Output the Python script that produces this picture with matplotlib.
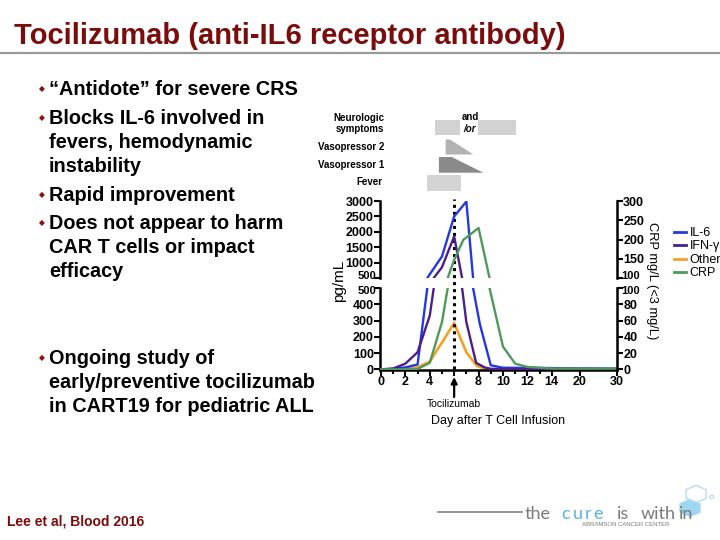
import numpy as np
import matplotlib
matplotlib.use('Agg')
import matplotlib.pyplot as plt
from matplotlib.patches import RegularPolygon, Circle
from matplotlib.lines import Line2D

plt.rcParams['font.family'] = ['Liberation Sans', 'DejaVu Sans']

# ---------------- data ----------------
il6_days = [0, 1, 2, 3, 4, 5, 6, 7, 7.55, 8.1, 9, 10, 14, 20, 30]
il6_vals = [0, 3, 12, 30, 620, 1200, 2500, 2980, 500, 280, 25, 10, 8, 6, 5]
ifn_days = [0, 1, 2, 3, 4, 5, 6, 6.65, 7, 7.8, 8.5, 9, 10, 14, 20, 30]
ifn_vals = [0, 5, 35, 105, 330, 850, 1850, 500, 290, 40, 12, 3, 1, 0, 0, 0]
oth_days = [0, 1, 2, 3, 4, 5, 6, 7, 7.85, 8.5, 9, 10, 14, 20, 30]
oth_vals = [0, 0, 3, 12, 48, 165, 285, 105, 22, 5, 1, 0, 0, 0, 0]
crp_days = [0, 1, 2, 3, 4, 5, 6, 6.75, 8, 8.9, 10, 11, 12, 13, 14, 20, 30]
crp_vals = [0, 0, 0, 0.5, 8, 58, 147, 199, 230, 100, 28, 7, 3, 2, 1, 1, 1]

series_names = ['IL-6', 'IFN-γ', 'Other', 'CRP']

tocilizumab_day = 6

x_major = [0, 2, 4, 6, 8, 10, 12, 14, 20, 30]
x_labels = ['0', '2', '4', '', '8', '10', '12', '14', '20', '30']
x_minor = [1, 3, 5, 7, 9, 11, 13]
left_bottom_ticks = [0, 100, 200, 300, 400, 500]
left_top_ticks = [500, 1000, 1500, 2000, 2500, 3000]
right_bottom_ticks = [0, 20, 40, 60, 80, 100]
right_top_ticks = [100, 150, 200, 250, 300]

# symptoms (days)
fever_span = (3.75, 6.53)
neuro_spans = [(4.43, 6.48), (7.98, 11.07)]
vaso1 = (4.75, 5.8, 8.39)   # start, plateau end, end
vaso2 = (5.3, 5.66, 7.57)

title = 'Tocilizumab (anti-IL6 receptor antibody)'
bullet_lines = [
    ('“Antidote” for severe CRS', True),
    ('Blocks IL-6 involved in', True),
    ('fevers, hemodynamic', False),
    ('instability', False),
    ('Rapid improvement', True),
    ('Does not appear to harm', True),
    ('CAR T cells or impact', False),
    ('efficacy', False),
    ('Ongoing study of', True),
    ('early/preventive tocilizumab', False),
    ('in CART19 for pediatric ALL', False),
]
bullet_y = [88, 117, 141, 165, 194, 222, 246, 270, 357, 381, 405]
footer = 'Lee et al, Blood 2016'

# ---------------- styling ----------------
W, H = 720, 540
c_blue = '#2438e0'
c_purple = '#4a1f8c'
c_orange = '#f2a12a'
c_green = '#4f9a58'
dark_red = '#7a0c0c'


def rect(x0, y0, x1, y1):
    return [x0 / W, 1 - y1 / H, (x1 - x0) / W, (y1 - y0) / H]


def fx(px):
    return px / W


def fy(py):
    return 1 - py / H


bp_in = [-10, 0, 14, 20, 30, 40]
bp_out = [-10, 0, 14, 16.3, 19.35, 22.4]


def fwd(x):
    return np.interp(x, bp_in, bp_out)


def inv(x):
    return np.interp(x, bp_out, bp_in)


fig = plt.figure(figsize=(7.2, 5.4), dpi=100)

# ----- chart axes -----
ax_b = fig.add_axes(rect(380, 288, 617, 370))
ax_b.set_xscale('function', functions=(fwd, inv))
ax_t = fig.add_axes(rect(380, 201, 617, 278), sharex=ax_b)
ax_br = ax_b.twinx()
ax_tr = ax_t.twinx()

for ax in (ax_b, ax_t):
    ax.plot(il6_days, il6_vals, color=c_blue, lw=1.7, zorder=3)
    ax.plot(ifn_days, ifn_vals, color=c_purple, lw=1.7, zorder=3)
    ax.plot(oth_days, oth_vals, color=c_orange, lw=1.9, zorder=2)
for ax in (ax_br, ax_tr):
    ax.plot(crp_days, crp_vals, color=c_green, lw=1.7)

ax_b.set_xlim(-0.08, 30)
ax_b.set_ylim(-4, 500)
ax_br.set_ylim(-0.8, 100)
ax_t.set_ylim(500, 3000)
ax_tr.set_ylim(100, 300)

tick_kw = dict(direction='out', length=4, width=1.5, pad=0.5, labelsize=9)


def lab(ticks, skip=None):
    return ['' if v == skip else str(v) for v in ticks]


ax_b.set_xticks(x_major, x_labels, fontweight='bold')
ax_b.set_xticks(x_minor, minor=True)
ax_b.tick_params(axis='x', which='major', **tick_kw)
ax_b.tick_params(axis='x', which='minor', direction='out', length=3, width=1.5)
ax_b.set_yticks(left_bottom_ticks, lab(left_bottom_ticks, 500), fontweight='bold')
ax_b.tick_params(axis='y', **tick_kw)
ax_br.set_yticks(right_bottom_ticks, lab(right_bottom_ticks, 100), fontweight='bold')
ax_br.tick_params(axis='y', **tick_kw)
ax_t.set_yticks(left_top_ticks, lab(left_top_ticks, 500), fontweight='bold')
ax_t.tick_params(axis='y', **tick_kw)
ax_t.tick_params(axis='x', which='both', bottom=False, labelbottom=False)
ax_tr.set_yticks(right_top_ticks, lab(right_top_ticks, 100), fontweight='bold')
ax_tr.tick_params(axis='y', **tick_kw)
ax_tr.tick_params(axis='x', which='both', bottom=False, labelbottom=False)

# break-edge labels, squeezed slightly apart as in the reference
brk_kw = dict(va='center', fontsize=8, fontweight='bold')
fig.text(fx(376), fy(276), '500', ha='right', **brk_kw)
fig.text(fx(376), fy(290.5), '500', ha='right', **brk_kw)
fig.text(fx(621.5), fy(276), '100', ha='left', **brk_kw)
fig.text(fx(621.5), fy(290.5), '100', ha='left', **brk_kw)

for ax in (ax_b, ax_t, ax_br, ax_tr):
    for s in ax.spines.values():
        s.set_visible(False)
        s.set_linewidth(1.8)
ax_b.spines['left'].set_visible(True)
ax_b.spines['bottom'].set_visible(True)
ax_br.spines['right'].set_visible(True)
ax_t.spines['left'].set_visible(True)
ax_tr.spines['right'].set_visible(True)
for ax in (ax_b, ax_t):
    ax.patch.set_visible(False)

# dotted tocilizumab line through both panels
ax_b.axvline(tocilizumab_day, ymin=(370 - 369) / 82, ymax=(370 - 199) / 82,
             color='black', ls=(0, (1, 1.3)), lw=2.2, clip_on=False, zorder=5)
xt = ax_b.get_xaxis_transform()
ax_b.annotate('', xy=(tocilizumab_day, (370 - 377) / 82), xytext=(tocilizumab_day, (370 - 397) / 82),
              xycoords=xt, textcoords=xt,
              arrowprops=dict(arrowstyle='-|>', color='black', lw=1.6, mutation_scale=9,
                              shrinkA=0, shrinkB=0))
ax_b.text(tocilizumab_day, (370 - 404) / 82, 'Tocilizumab', transform=xt,
          ha='center', va='center', fontsize=7.5)

fig.text(fx(498), fy(421), 'Day after T Cell Infusion', ha='center', va='center', fontsize=9)
fig.text(fx(339), fy(281), 'pg/mL', rotation=90, ha='center', va='center', fontsize=11)
fig.text(fx(652), fy(281), 'CRP mg/L (<3 mg/L)', rotation=-90, ha='center', va='center',
         fontsize=9.3)

handles = [Line2D([], [], color=c, lw=2) for c in (c_blue, c_purple, c_orange, c_green)]
fig.legend(handles, series_names, loc='upper left', bbox_to_anchor=(fx(674), fy(227)),
           frameon=False, handlelength=0.95, handletextpad=0.3, labelspacing=0.12,
           fontsize=9, borderaxespad=0, borderpad=0)

# ----- symptom bars -----
ax_s = fig.add_axes(rect(380, 110, 617, 195), sharex=ax_b)
ax_s.set_ylim(195, 110)
ax_s.axis('off')
c_neuro, c_v2, c_v1, c_fever = '#d2d2d2', '#b3b3b3', '#8a8a8a', '#d4d4d4'
for s, e in neuro_spans:
    ax_s.fill([s, e, e, s], [120, 120, 135, 135], color=c_neuro, lw=0)
ax_s.fill([vaso2[0], vaso2[1], vaso2[2], vaso2[0]], [139.5, 139.5, 154.5, 154.5], color=c_v2, lw=0)
ax_s.fill([vaso1[0], vaso1[1], vaso1[2], vaso1[0]], [157, 157, 172.7, 172.7], color=c_v1, lw=0)
ax_s.fill([fever_span[0], fever_span[1], fever_span[1], fever_span[0]], [175, 175, 190.7, 190.7],
          color=c_fever, lw=0)

lab_kw = dict(ha='right', va='center', fontsize=7, fontweight='bold')
fig.text(fx(384), fy(118), 'Neurologic', **lab_kw)
fig.text(fx(384), fy(129), 'symptoms', **lab_kw)
fig.text(fx(384), fy(147), 'Vasopressor 2', **lab_kw)
fig.text(fx(384), fy(164.5), 'Vasopressor 1', **lab_kw)
fig.text(fx(382), fy(182), 'Fever', **lab_kw)
fig.text(fx(462), fy(117), 'and', ha='left', va='center', fontsize=7, fontweight='bold')
fig.text(fx(463), fy(128.5), '/or', ha='left', va='center', fontsize=7, fontweight='bold',
         style='italic')

# ----- slide text -----
fig.text(fx(13.5), fy(44), title, ha='left', va='baseline', fontsize=21, fontweight='bold',
         color=dark_red)
fig.add_artist(Line2D([0, 1], [fy(52.5), fy(52.5)], color='#9a9a9a', lw=1.6))

for (txt, has_bullet), yc in zip(bullet_lines, bullet_y):
    fig.text(fx(49), fy(yc + 7), txt, ha='left', va='baseline', fontsize=14.3, fontweight='bold',
             color='black')
    if has_bullet:
        fig.text(fx(41.5), fy(yc + 1), '◆', ha='center', va='center', fontsize=5.5,
                 color='#8a1010', family='DejaVu Sans')

fig.text(fx(7), fy(526), footer, ha='left', va='baseline', fontsize=10, fontweight='bold',
         color=dark_red)

# ----- logo -----
fig.add_artist(Line2D([fx(438), fx(522)], [fy(512), fy(512)], color='#8c8c8c', lw=1.3))
hexa = RegularPolygon((fx(690), fy(508)), numVertices=6, radius=0.017, orientation=0,
                      transform=fig.transFigure, facecolor='#9fd6f0', edgecolor='none')
fig.add_artist(hexa)
hexb = RegularPolygon((fx(696), fy(494)), numVertices=6, radius=0.016, orientation=0,
                      transform=fig.transFigure, facecolor='none', edgecolor='#b3ddf0', lw=1)
fig.add_artist(hexb)
fig.add_artist(Circle((fx(712), fy(497)), 0.003, transform=fig.transFigure,
                      facecolor='none', edgecolor='#b3ddf0', lw=0.8))
logo_kw = dict(ha='left', va='baseline', fontsize=13, family=['Lato', 'DejaVu Sans'])
fig.text(fx(525), fy(519), 'the', color='#7a7a7a', **logo_kw)
for ch, xp in zip('cure', [561, 572.5, 585, 593]):
    fig.text(fx(xp), fy(519), ch, color='#56b4e3', **logo_kw)
fig.text(fx(617), fy(519), 'is', color='#7a7a7a', **logo_kw)
fig.text(fx(641), fy(519), 'with', color='#7a7a7a', **logo_kw)
fig.text(fx(679), fy(519), 'in', color='#7a7a7a', **logo_kw)
fig.text(fx(626), fy(525), 'ABRAMSON CANCER CENTER', ha='center', va='center', fontsize=4.3,
         color='#7a7a7a')

fig.savefig('out.png', dpi=100)
